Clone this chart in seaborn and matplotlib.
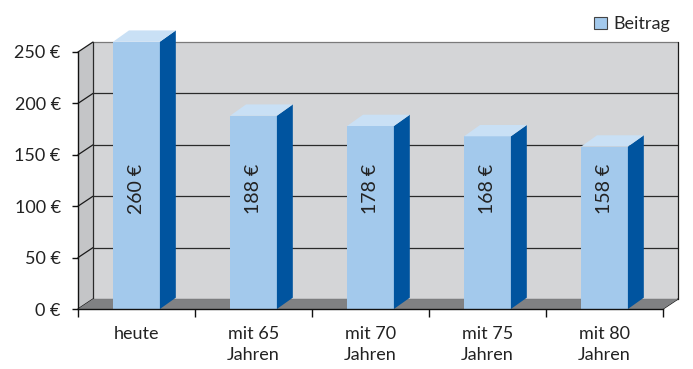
import matplotlib
matplotlib.use('Agg')
import matplotlib.pyplot as plt
import seaborn as sns
from matplotlib.patches import Polygon, Patch

# ── Data ─────────────────────────────────────────────────────────────────────
categories = ["heute", "mit 65\nJahren", "mit 70\nJahren", "mit 75\nJahren", "mit 80\nJahren"]
values     = [260, 188, 178, 168, 158]
y_ticks    = [0, 50, 100, 150, 200, 250]
series     = "Beitrag"

# ── Style ────────────────────────────────────────────────────────────────────
FRONT, SIDE, TOP = "#a3c9ec", "#00549f", "#c9e0f5"
WALL, LWALL, FLOOR = "#d4d5d7", "#c4c5c7", "#808183"
DX, DY = 0.128, 9.7        # depth of walls (x in categories, y in €)
BDX, BDY = 0.136, 11.0     # depth of bars

sns.set_style("white")
plt.rcParams['font.family'] = ['Lato', 'DejaVu Sans']
plt.rcParams['font.size'] = 13

fig = plt.figure(figsize=(6.93, 3.69), dpi=100)
ax = fig.add_axes([78 / 693, 60 / 369, 585 / 693, 257 / 369])
ax.set_xlim(-0.5, 4.5)
ax.set_ylim(0, 250)

x0, x1, top = -0.5, 4.5, y_ticks[-1]

# walls and floor
ax.add_patch(Polygon([(x0 + DX, DY), (x1 + DX, DY), (x1 + DX, top + DY), (x0 + DX, top + DY)],
                     closed=True, fc=WALL, ec="none", zorder=0, clip_on=False))
ax.add_patch(Polygon([(x0, 0), (x0 + DX, DY), (x0 + DX, top + DY), (x0, top)],
                     closed=True, fc=LWALL, ec="none", zorder=0, clip_on=False))
ax.add_patch(Polygon([(x0, 0), (x1, 0), (x1 + DX, DY), (x0 + DX, DY)],
                     closed=True, fc=FLOOR, ec="none", zorder=1, clip_on=False))

# grid lines on the walls
for t in y_ticks:
    c = "#7a7a7a" if t == top else "#2a2a2a"
    ax.plot([x0 + DX, x1 + DX], [t + DY, t + DY], color=c, lw=0.9, zorder=0.5, clip_on=False)
    ax.plot([x0, x0 + DX], [t, t + DY], color="#1a1a1a", lw=0.9, zorder=0.5, clip_on=False)
ax.plot([x0 + DX, x0 + DX], [DY, top + DY], color="#2a2a2a", lw=0.9, zorder=0.5, clip_on=False)
ax.plot([x1 + DX, x1 + DX], [DY, top + DY], color="#1a1a1a", lw=0.9, zorder=0.5, clip_on=False)
ax.plot([x1, x1 + DX], [0, DY], color="#1a1a1a", lw=0.9, zorder=0.5, clip_on=False)

# bars
sns.barplot(x=categories, y=values, color=FRONT, saturation=1, width=0.4, ax=ax,
            linewidth=0, edgecolor="none", zorder=3)
for bar, v in zip(ax.containers[0], values):
    bar.set_clip_on(False)
    bx0 = bar.get_x()
    bx1 = bx0 + bar.get_width()
    h = bar.get_height()
    ax.add_patch(Polygon([(bx1, 0), (bx1 + BDX, BDY), (bx1 + BDX, h + BDY), (bx1, h)],
                         closed=True, fc=SIDE, ec="none", zorder=3, clip_on=False))
    ax.add_patch(Polygon([(bx0, h), (bx0 + BDX, h + BDY), (bx1 + BDX, h + BDY), (bx1, h)],
                         closed=True, fc=TOP, ec="none", zorder=3, clip_on=False))
    ax.text(bx0 + bar.get_width() / 2, 117, f"{v} €", rotation=90, ha="center", va="center",
            fontsize=14, color="#222222", zorder=4)

# axes
for s in ["top", "right"]:
    ax.spines[s].set_visible(False)
for s in ["left", "bottom"]:
    ax.spines[s].set_color("#111111")
    ax.spines[s].set_linewidth(1.0)
    ax.spines[s].set_zorder(5)
ax.set_yticks(y_ticks)
ax.set_yticklabels([f"{t} €" for t in y_ticks])
ax.set_xticks(range(len(categories)))
ax.set_xticklabels(categories, linespacing=1.35)
ax.set_xticks([i - 0.5 for i in range(len(categories) + 1)], minor=True)
ax.tick_params(axis="y", which="major", left=True, length=4.5, width=1, color="#111111",
               pad=8, labelcolor="#222222")
ax.tick_params(axis="x", which="major", bottom=False, pad=9, labelcolor="#222222")
ax.tick_params(axis="x", which="minor", bottom=True, length=5.5, width=1, color="#111111")
ax.set_xlabel("")
ax.set_ylabel("")

fig.legend(handles=[Patch(fc=FRONT, ec="#444444", lw=0.8, label=series)],
           loc="upper right", bbox_to_anchor=(0.99, 1.0), frameon=False,
           fontsize=13, handlelength=0.7, handleheight=0.7, handletextpad=0.35)

fig.savefig("out.png", dpi=100)
